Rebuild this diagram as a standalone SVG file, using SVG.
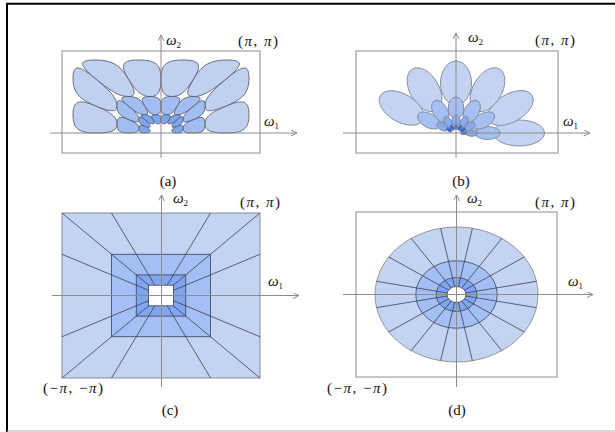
<svg xmlns="http://www.w3.org/2000/svg" xmlns:xlink="http://www.w3.org/1999/xlink" width="615" height="432" viewBox="0 0 615 432">
<style>
.frame{fill:none;stroke:#8c8c8c;stroke-width:1}
.axis{stroke:#8c8c8c;stroke-width:1;fill:none}
.lobe{stroke:#5a5f6e;stroke-width:0.9;vector-effect:non-scaling-stroke}
.ell{stroke:#7d8596;stroke-width:0.9;vector-effect:non-scaling-stroke}
.ray{stroke:#3d3f55;stroke-width:0.8}
.lbl{font-family:"Liberation Serif","Times New Roman",serif;font-size:15px;fill:#111}
.it{font-style:italic}
.sub{font-size:9px;font-style:normal}
.pi{letter-spacing:1.5px}
</style>
<defs>
<marker id="arr" markerWidth="8" markerHeight="8" refX="6" refY="3" orient="auto" markerUnits="userSpaceOnUse">
<path d="M0,0 L6,3 L0,6" fill="none" stroke="#8c8c8c" stroke-width="1"/>
</marker>
<g id="halfA">
<path class="lobe" d="M-88,-18.25 C-88,-31.94 -82.5,-34.22 -66,-27.375 C-49.5,-20.53 -44,-15.97 -44,-9.125 C-44,-2.28 -49.5,0 -66,0 C-82.5,0 -88,-4.56 -88,-18.25Z"/>
<path class="lobe" d="M-88,-54.75 C-88,-68.44 -82.5,-68.44 -66,-54.75 C-49.5,-41.06 -44,-34.22 -44,-27.375 C-44,-20.53 -49.5,-20.53 -66,-27.375 C-82.5,-34.22 -88,-41.06 -88,-54.75Z"/>
<path class="lobe" d="M-66,-73 C-49.5,-73 -41.25,-68.44 -33,-54.75 C-24.75,-41.06 -24.75,-36.5 -33,-36.5 C-41.25,-36.5 -49.5,-41.06 -66,-54.75 C-82.5,-68.44 -82.5,-73 -66,-73Z"/>
<path class="lobe" d="M-22,-73 C-5.5,-73 0,-68.44 0,-54.75 C0,-41.06 -2.75,-36.5 -11,-36.5 C-19.25,-36.5 -24.75,-41.06 -33,-54.75 C-41.25,-68.44 -38.5,-73 -22,-73Z"/>
</g>
<g id="ringA">
<use xlink:href="#halfA"/>
<use xlink:href="#halfA" transform="scale(-1,1)"/>
</g>
<g id="ringB">
<ellipse class="ell" cx="63" cy="0" rx="25.5" ry="13"/>
<ellipse class="ell" rx="25" ry="14" transform="translate(54.5,-25) rotate(-30)"/>
<ellipse class="ell" rx="24" ry="14.5" transform="translate(31.5,-43.3) rotate(-60)"/>
<ellipse class="ell" rx="22" ry="15.5" transform="translate(0,-50) rotate(-90)"/>
<ellipse class="ell" rx="24" ry="14.5" transform="translate(-31.5,-43.3) rotate(60)"/>
<ellipse class="ell" rx="24.5" ry="14" transform="translate(-54.5,-25) rotate(30)"/>
</g>
</defs>

<rect x="0" y="0" width="615" height="432" fill="#ffffff"/>
<g id="outer-frame">
<line x1="6" y1="3.8" x2="615" y2="3.8" stroke="#000" stroke-width="2"/>
<line x1="7" y1="3" x2="7" y2="432" stroke="#000" stroke-width="2"/>
<line x1="7" y1="431" x2="615" y2="431" stroke="#b5b5b5" stroke-width="1"/>
</g>

<g id="panel-a">
<rect class="frame" x="62" y="51" width="198" height="102"/>
<g transform="translate(161,133)">
<use xlink:href="#ringA" fill="#c0d0f0"/>
<use xlink:href="#ringA" transform="scale(0.5)" fill="#a2bdf1"/>
<use xlink:href="#ringA" transform="scale(0.25)" fill="#7ea5ef"/>
</g>
<line class="axis" x1="161" y1="158" x2="161" y2="35" marker-end="url(#arr)"/>
<line class="axis" x1="50" y1="133" x2="297" y2="133" marker-end="url(#arr)"/>
<text class="lbl it" x="166" y="45">ω<tspan class="sub" dy="3">2</tspan></text>
<text class="lbl pi" x="238" y="46">(<tspan class="it">π</tspan>,<tspan class="it"> π</tspan>)</text>
<text class="lbl it" x="264" y="126">ω<tspan class="sub" dy="3">1</tspan></text>
<text class="lbl" x="168" y="186" text-anchor="middle">(a)</text>
</g>

<g id="panel-b">
<rect class="frame" x="356" y="51" width="202" height="102"/>
<g transform="translate(456,133)">
<use xlink:href="#ringB" fill="#c3d3f1"/>
<use xlink:href="#ringB" transform="scale(0.5)" fill="#a6c0f2"/>
<use xlink:href="#ringB" transform="scale(0.25)" fill="#86abf0"/>
<use xlink:href="#ringB" transform="scale(0.125)" fill="#2f68d8"/>
</g>
<line class="axis" x1="456" y1="158" x2="456" y2="33" marker-end="url(#arr)"/>
<line class="axis" x1="343" y1="133" x2="590" y2="133" marker-end="url(#arr)"/>
<text class="lbl it" x="468" y="42">ω<tspan class="sub" dy="3">2</tspan></text>
<text class="lbl pi" x="535" y="45">(<tspan class="it">π</tspan>,<tspan class="it"> π</tspan>)</text>
<text class="lbl it" x="563" y="126">ω<tspan class="sub" dy="3">1</tspan></text>
<text class="lbl" x="461" y="186" text-anchor="middle">(b)</text>
</g>

<g id="panel-c">
<rect x="62" y="213" width="198" height="165" fill="#c3d3f2" stroke="#8c8c8c" stroke-width="1"/>
<rect x="111.5" y="254.25" width="99" height="82.5" fill="#a3bff4"/>
<rect x="136.25" y="274.9" width="49.5" height="41.2" fill="#80a6f0"/>
<g class="ray">
<line x1="62" y1="213" x2="260" y2="378"/>
<line x1="260" y1="213" x2="62" y2="378"/>
<line x1="111.5" y1="213" x2="210.5" y2="378"/>
<line x1="210.5" y1="213" x2="111.5" y2="378"/>
<line x1="62" y1="254.25" x2="260" y2="336.75"/>
<line x1="260" y1="254.25" x2="62" y2="336.75"/>
</g>
<rect x="111.5" y="254.25" width="99" height="82.5" fill="none" stroke="#3d3f55" stroke-width="0.8"/>
<rect x="136.25" y="274.9" width="49.5" height="41.2" fill="none" stroke="#3d3f55" stroke-width="0.8"/>
<rect x="148.6" y="285.2" width="24.8" height="20.6" fill="#ffffff" stroke="#3d3f55" stroke-width="0.8"/>
<line class="axis" x1="161.5" y1="387" x2="161.5" y2="195" marker-end="url(#arr)"/>
<line class="axis" x1="52" y1="295.5" x2="299" y2="295.5" marker-end="url(#arr)"/>
<text class="lbl it" x="173" y="203">ω<tspan class="sub" dy="3">2</tspan></text>
<text class="lbl pi" x="240" y="207">(<tspan class="it">π</tspan>,<tspan class="it"> π</tspan>)</text>
<text class="lbl it" x="268" y="286">ω<tspan class="sub" dy="3">1</tspan></text>
<text class="lbl pi" x="43" y="393">(−<tspan class="it">π</tspan>, −<tspan class="it">π</tspan>)</text>
<text class="lbl" x="170" y="415" text-anchor="middle">(c)</text>
</g>

<g id="panel-d">
<rect class="frame" x="356" y="212" width="201" height="165"/>
<ellipse cx="456.5" cy="294.5" rx="81.5" ry="67.5" fill="#c3d3f2" stroke="#8c8c8c" stroke-width="0.9"/>
<ellipse cx="456.5" cy="294.5" rx="40.75" ry="33.75" fill="#a3bff4"/>
<ellipse cx="456.5" cy="294.5" rx="20.4" ry="16.9" fill="#80a6f0"/>
<g class="ray">
<line x1="536.44" y1="281.33" x2="376.56" y2="307.67"/>
<line x1="376.56" y1="281.33" x2="536.44" y2="307.67"/>
<line x1="524.27" y1="257" x2="388.73" y2="332"/>
<line x1="388.73" y1="257" x2="524.27" y2="332"/>
<line x1="501.78" y1="238.37" x2="411.22" y2="350.63"/>
<line x1="411.22" y1="238.37" x2="501.78" y2="350.63"/>
<line x1="472.4" y1="228.3" x2="440.6" y2="360.7"/>
<line x1="440.6" y1="228.3" x2="472.4" y2="360.7"/>
</g>
<ellipse cx="456.5" cy="294.5" rx="40.75" ry="33.75" fill="none" stroke="#3d3f55" stroke-width="0.8"/>
<ellipse cx="456.5" cy="294.5" rx="20.4" ry="16.9" fill="none" stroke="#3d3f55" stroke-width="0.8"/>
<ellipse cx="456.5" cy="294.5" rx="9.5" ry="8" fill="#ffffff" stroke="#3d3f55" stroke-width="0.8"/>
<line class="axis" x1="456.5" y1="387" x2="456.5" y2="195" marker-end="url(#arr)"/>
<line class="axis" x1="343" y1="294.5" x2="593" y2="294.5" marker-end="url(#arr)"/>
<text class="lbl it" x="467" y="203">ω<tspan class="sub" dy="3">2</tspan></text>
<text class="lbl pi" x="535" y="207">(<tspan class="it">π</tspan>,<tspan class="it"> π</tspan>)</text>
<text class="lbl it" x="568" y="286">ω<tspan class="sub" dy="3">1</tspan></text>
<text class="lbl pi" x="327" y="393">(−<tspan class="it">π</tspan>, −<tspan class="it">π</tspan>)</text>
<text class="lbl" x="457" y="415" text-anchor="middle">(d)</text>
</g>
</svg>
